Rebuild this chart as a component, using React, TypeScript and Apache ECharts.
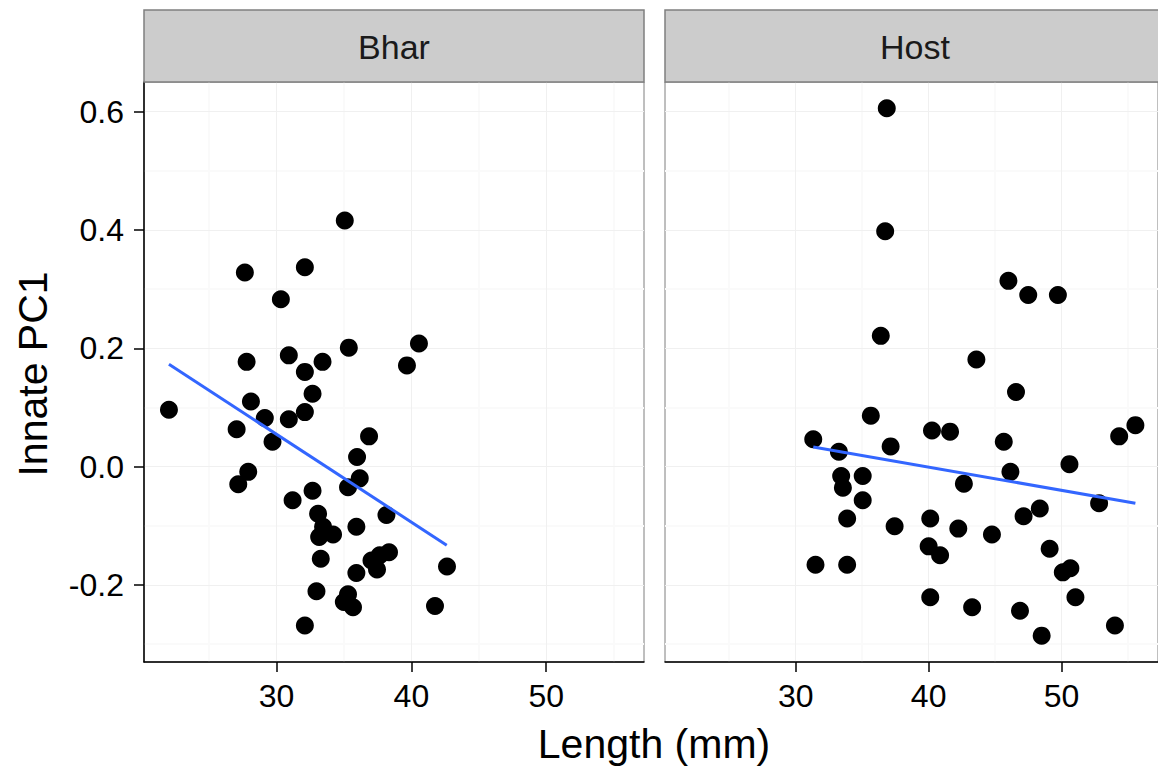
import React, { useEffect, useRef } from "react";
import * as echarts from "echarts";

const panelNames = ["Bhar", "Host"];

const bharLength = [35.06, 27.65, 32.1, 30.32, 27.78, 30.91, 33.41, 32.1, 35.36, 40.56, 39.67, 22.02, 28.1, 32.67, 29.13, 30.91, 32.1, 27.04, 29.7, 36.86, 35.97, 36.17, 35.3, 27.9, 27.16, 32.67, 31.19, 38.15, 33.08, 35.92, 33.45, 34.19, 33.16, 33.28, 38.34, 37.65, 37.04, 37.45, 35.92, 42.64, 32.96, 35.3, 34.99, 35.67, 41.75, 32.1];
const bharPC1 = [0.416, 0.328, 0.337, 0.283, 0.177, 0.188, 0.177, 0.16, 0.201, 0.208, 0.171, 0.096, 0.11, 0.123, 0.082, 0.08, 0.092, 0.063, 0.042, 0.051, 0.016, -0.02, -0.035, -0.009, -0.03, -0.041, -0.057, -0.082, -0.08, -0.102, -0.102, -0.115, -0.119, -0.156, -0.145, -0.15, -0.159, -0.174, -0.18, -0.169, -0.211, -0.216, -0.229, -0.238, -0.236, -0.269];

const hostLength = [36.85, 36.73, 46.0, 47.49, 49.72, 36.4, 43.59, 46.57, 35.65, 31.32, 40.25, 41.61, 45.65, 37.14, 55.55, 54.33, 33.25, 33.42, 35.04, 33.55, 46.15, 50.59, 42.65, 35.04, 52.82, 48.36, 47.14, 33.87, 40.12, 37.44, 42.23, 44.76, 40.0, 40.86, 49.1, 31.49, 33.87, 50.66, 50.09, 51.04, 40.12, 43.27, 46.87, 54.01, 48.5];
const hostPC1 = [0.606, 0.398, 0.314, 0.29, 0.29, 0.221, 0.181, 0.126, 0.086, 0.046, 0.061, 0.059, 0.042, 0.034, 0.07, 0.051, 0.025, -0.016, -0.016, -0.036, -0.009, 0.004, -0.029, -0.057, -0.062, -0.071, -0.084, -0.088, -0.088, -0.101, -0.105, -0.115, -0.135, -0.15, -0.139, -0.166, -0.166, -0.172, -0.179, -0.221, -0.221, -0.238, -0.244, -0.269, -0.286];

const bharFitLength = [22.02, 42.62];
const bharFitPC1 = [0.173, -0.133];
const hostFitLength = [31.32, 55.55];
const hostFitPC1 = [0.033, -0.062];

const xMajorTicks = [30, 40, 50];
const xMinorTicks = [25, 35, 45, 55];
const yMajorTicks = [-0.2, 0.0, 0.2, 0.4, 0.6];
const yMinorTicks = [-0.3, -0.1, 0.1, 0.3, 0.5];
const xLimits = [20.17, 57.25];
const yLimits = [-0.3306, 0.6503];

const FONT = "'Liberation Sans', Arial, sans-serif";

const PANEL_LEFTS = [144, 665];
const PANEL_W = 500;
const PANEL_TOP = 82;
const PANEL_H = 580;
const STRIP_TOP = 10;

export default function App() {
  const ref = useRef<HTMLDivElement>(null);

  useEffect(() => {
    if (!ref.current) return;
    const chart = echarts.init(ref.current, undefined, { renderer: "svg" });

    const pointsData = [
      bharLength.map((x, i) => [x, bharPC1[i]]),
      hostLength.map((x, i) => [x, hostPC1[i]]),
    ];
    const fitData = [
      bharFitLength.map((x, i) => [x, bharFitPC1[i]]),
      hostFitLength.map((x, i) => [x, hostFitPC1[i]]),
    ];

    const gridLines = [
      ...xMinorTicks.map((v) => ({ xAxis: v, lineStyle: { color: "#FAFAFA", width: 2, type: "solid" } })),
      ...yMinorTicks.map((v) => ({ yAxis: v, lineStyle: { color: "#FAFAFA", width: 2, type: "solid" } })),
      ...xMajorTicks.map((v) => ({ xAxis: v, lineStyle: { color: "#F0F0F0", width: 1, type: "solid" } })),
      ...yMajorTicks.map((v) => ({ yAxis: v, lineStyle: { color: "#F0F0F0", width: 1, type: "solid" } })),
    ];

    const grids = PANEL_LEFTS.map((left) => ({
      left,
      top: PANEL_TOP,
      width: PANEL_W,
      height: PANEL_H,
      show: true,
      borderColor: "#7F7F7F",
      borderWidth: 1,
      backgroundColor: "#FFFFFF",
      containLabel: false,
    }));

    const xAxes = PANEL_LEFTS.map((_, i) => ({
      type: "value",
      gridIndex: i,
      min: xLimits[0],
      max: xLimits[1],
      z: 8,
      axisLine: { show: true, onZero: false, lineStyle: { color: "#000000", width: 1.5 } },
      axisTick: { show: true, length: 10, customValues: xMajorTicks, lineStyle: { color: "#000000", width: 1.5 } },
      axisLabel: {
        show: true,
        customValues: xMajorTicks,
        fontSize: 32,
        fontFamily: FONT,
        color: "#000000",
        margin: 18,
        formatter: (v: number) => String(v),
      },
      splitLine: { show: false },
    }));

    const yAxes = PANEL_LEFTS.map((_, i) => ({
      type: "value",
      gridIndex: i,
      min: yLimits[0],
      max: yLimits[1],
      z: 8,
      axisLine: { show: i === 0, onZero: false, lineStyle: { color: "#000000", width: 1.5 } },
      axisTick: { show: i === 0, length: 10, customValues: yMajorTicks, lineStyle: { color: "#000000", width: 1.5 } },
      axisLabel: {
        show: i === 0,
        customValues: yMajorTicks,
        fontSize: 32,
        fontFamily: FONT,
        color: "#000000",
        margin: 20,
        formatter: (v: number) => v.toFixed(1),
      },
      splitLine: { show: false },
    }));

    const series: any[] = [];
    PANEL_LEFTS.forEach((_, i) => {
      series.push({
        type: "scatter",
        xAxisIndex: i,
        yAxisIndex: i,
        data: [],
        z: 1,
        silent: true,
        markLine: {
          silent: true,
          z: 1,
          symbol: ["none", "none"],
          label: { show: false },
          data: gridLines,
          animation: false,
        },
      });
      series.push({
        type: "scatter",
        xAxisIndex: i,
        yAxisIndex: i,
        data: pointsData[i],
        symbol: "circle",
        symbolSize: 18,
        itemStyle: { color: "#000000", opacity: 1 },
        z: 3,
      });
      series.push({
        type: "line",
        xAxisIndex: i,
        yAxisIndex: i,
        data: fitData[i],
        showSymbol: false,
        symbol: "none",
        lineStyle: { color: "#3366FF", width: 3 },
        z: 4,
      });
    });

    const graphics: any[] = [];
    PANEL_LEFTS.forEach((left, i) => {
      graphics.push({
        type: "rect",
        shape: { x: left, y: STRIP_TOP, width: PANEL_W, height: PANEL_TOP - STRIP_TOP },
        style: { fill: "#CCCCCC", stroke: "#7F7F7F", lineWidth: 1.5 },
        z: 10,
      });
      graphics.push({
        type: "text",
        x: left + PANEL_W / 2,
        y: (STRIP_TOP + PANEL_TOP) / 2 + 1,
        style: {
          text: panelNames[i],
          fontSize: 34,
          fontFamily: FONT,
          fill: "#1A1A1A",
          align: "center",
          verticalAlign: "middle",
          textAlign: "center",
          textVerticalAlign: "middle",
        },
        z: 11,
      });
    });
    graphics.push({
      type: "text",
      x: 654,
      y: 744,
      style: {
        text: "Length (mm)",
        fontSize: 41,
        fontFamily: FONT,
        fill: "#000000",
        align: "center",
        verticalAlign: "middle",
        textAlign: "center",
        textVerticalAlign: "middle",
      },
      z: 11,
    });
    graphics.push({
      type: "text",
      x: 33,
      y: 374,
      rotation: Math.PI / 2,
      style: {
        text: "Innate PC1",
        fontSize: 41,
        fontFamily: FONT,
        fill: "#000000",
        align: "center",
        verticalAlign: "middle",
        textAlign: "center",
        textVerticalAlign: "middle",
      },
      z: 11,
    });

    chart.setOption({
      animation: false,
      backgroundColor: "#FFFFFF",
      grid: grids,
      xAxis: xAxes,
      yAxis: yAxes,
      series,
      graphic: graphics,
    });

    return () => {
      chart.dispose();
    };
  }, []);

  return (
    <div
      ref={ref}
      style={{ position: "fixed", left: 0, top: 0, width: 1158, height: 773, background: "#FFFFFF" }}
    />
  );
}
